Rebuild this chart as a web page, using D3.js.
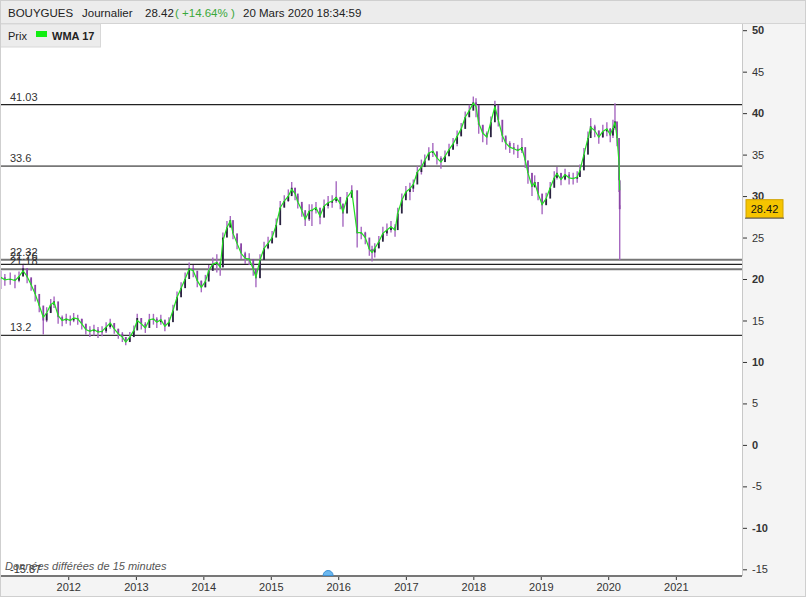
<!DOCTYPE html>
<html><head><meta charset="utf-8">
<script src="https://cdn.jsdelivr.net/npm/d3@7"></script>
<style>body{margin:0;background:#fff;} svg{display:block;font-family:Arial,"Liberation Sans",sans-serif;}</style>
</head><body><svg id="c" width="806" height="597"></svg>
<script>
// ---- data ----
const years = [2011.00,2011.06,2011.14,2011.21,2011.27,2011.33,2011.39,2011.45,2011.51,2011.57,2011.63,2011.68,2011.74,2011.79,2011.85,2011.91,2011.97,
2012.03,2012.08,2012.14,2012.20,2012.26,2012.32,2012.38,2012.44,2012.50,2012.56,2012.62,2012.68,2012.74,2012.80,2012.85,2012.91,2012.97,
2013.02,2013.08,2013.14,2013.20,2013.26,2013.31,2013.37,2013.43,2013.49,2013.55,2013.61,2013.67,2013.73,2013.79,2013.85,2013.91,2013.97,
2014.03,2014.08,2014.14,2014.20,2014.25,2014.29,2014.35,2014.40,2014.44,2014.50,2014.56,2014.62,2014.68,2014.74,2014.78,2014.84,2014.90,2014.96,
2015.02,2015.08,2015.14,2015.20,2015.26,2015.31,2015.36,2015.40,2015.46,2015.51,2015.57,2015.61,2015.67,2015.73,2015.79,2015.85,2015.91,2015.97,
2016.03,2016.07,2016.13,2016.20,2016.28,2016.34,2016.40,2016.46,2016.50,2016.54,2016.60,2016.66,2016.72,2016.78,2016.84,2016.88,2016.94,
2017.00,2017.06,2017.11,2017.17,2017.23,2017.28,2017.34,2017.40,2017.46,2017.52,2017.58,2017.64,2017.70,2017.76,2017.82,2017.88,2017.94,
2018.00,2018.04,2018.08,2018.14,2018.20,2018.26,2018.32,2018.37,2018.43,2018.48,2018.54,2018.60,2018.66,2018.72,2018.77,2018.81,2018.87,2018.91,2018.96,
2019.02,2019.08,2019.14,2019.20,2019.24,2019.30,2019.36,2019.42,2019.48,2019.54,2019.58,2019.64,2019.70,2019.74,2019.80,2019.86,2019.92,2019.98,
2020.03,2020.07,2020.10,2020.13,2020.16,2020.17];
const closes = [20.2,19.9,20.0,19.8,20.3,21.3,20.2,19.3,18.2,16.8,15.0,15.9,16.9,17.3,15.4,15.0,15.2,
15.0,15.3,15.2,14.6,13.9,13.7,13.9,13.6,13.7,14.2,14.7,14.0,13.4,13.0,12.4,13.0,13.8,
15.3,14.6,14.1,15.1,15.2,14.8,15.1,14.3,14.8,16.2,17.8,18.9,20.0,21.3,21.0,19.8,19.0,
19.7,21.0,21.8,22.0,21.4,25.0,26.2,27.1,25.5,24.3,23.1,22.5,22.4,21.2,20.1,22.3,23.7,24.3,
25.0,26.5,28.6,29.4,30.0,31.0,30.3,29.3,28.3,27.2,28.2,28.3,28.6,27.4,28.8,29.2,29.4,29.9,
29.1,27.9,29.8,30.7,25.5,25.6,25.0,23.6,23.2,23.7,24.5,25.5,25.9,26.3,25.9,27.9,29.5,
30.5,30.9,31.4,32.9,33.5,34.3,35.2,35.4,34.6,34.1,34.8,35.6,36.3,37.2,38.1,39.5,40.3,
41.3,41.0,38.6,37.6,37.1,38.9,41.0,39.2,37.3,36.4,35.9,35.7,35.5,35.9,34.3,32.8,31.1,31.7,30.3,
28.9,29.7,31.0,32.2,32.8,32.0,32.6,32.2,32.1,32.3,33.1,35.0,37.0,38.4,37.9,37.1,37.8,38.1,
37.3,38.2,39.0,37.0,31.9,28.42];
const highs = [21.0,20.6,20.8,20.5,20.9,21.7,20.9,20.0,18.9,17.6,15.9,16.6,17.6,17.9,16.2,15.6,15.8,
15.6,15.9,15.7,15.2,14.6,14.3,14.5,14.2,14.3,14.8,15.2,14.6,14.0,13.6,13.0,13.6,14.4,
15.8,15.2,14.8,15.8,15.8,15.4,15.7,14.9,15.4,16.9,18.5,19.6,20.8,22.0,21.7,20.5,19.8,
20.5,21.7,22.6,23.0,22.1,25.6,27.0,27.6,26.3,25.1,23.9,23.3,23.1,22.0,20.9,23.0,24.5,25.1,
25.8,27.3,29.4,30.1,30.8,31.7,31.0,30.0,29.0,28.0,29.0,29.0,29.3,28.2,29.6,30.0,30.1,31.8,
29.8,28.8,30.5,31.3,26.4,26.3,25.7,24.4,24.0,24.3,25.2,26.3,26.7,27.0,26.6,28.6,30.3,
31.2,31.6,32.0,33.6,34.4,35.0,35.9,36.4,35.3,34.8,35.5,36.3,37.0,37.9,38.8,40.2,41.0,
42.0,41.8,39.5,38.5,37.8,39.6,41.5,40.0,38.0,37.1,36.6,36.4,36.2,37.0,35.0,33.6,31.9,32.5,31.0,
29.6,30.4,31.7,33.0,33.5,32.7,33.3,32.9,32.8,33.0,33.8,35.8,37.8,39.4,38.6,37.9,38.6,38.9,
38.2,39.2,41.2,38.6,34.3,28.9];
const lows = [18.8,19.2,19.3,18.9,19.6,20.4,19.5,18.6,17.3,16.0,13.3,14.8,16.0,16.5,14.6,14.3,14.6,
14.4,14.8,14.5,13.9,13.3,13.0,13.2,12.9,13.1,13.5,14.0,13.4,12.8,12.4,12.0,12.5,13.2,
14.5,13.9,13.5,14.5,14.5,14.1,14.5,13.7,14.2,15.6,17.1,18.2,19.2,20.5,20.2,19.0,18.4,
19.0,20.3,21.0,20.8,20.4,21.5,25.5,26.3,24.8,23.6,22.4,21.8,21.7,20.4,19.0,21.5,23.0,23.6,
24.3,25.8,27.8,28.7,29.3,30.2,29.5,28.5,27.5,26.4,27.0,26.4,27.9,26.6,28.1,28.5,28.6,29.2,
28.4,26.3,29.0,30.0,23.8,24.8,24.2,22.8,22.1,22.6,23.7,24.8,25.2,25.6,25.1,27.1,28.8,
29.8,29.5,30.5,32.1,32.6,33.6,34.5,34.7,33.8,33.3,34.1,34.9,35.6,36.0,37.4,38.8,39.6,
40.6,39.5,37.5,36.5,36.2,38.0,40.0,38.4,36.5,35.6,35.2,35.0,34.6,35.2,33.4,31.5,30.0,31.0,29.5,
27.8,29.0,30.2,31.4,32.0,31.3,31.9,31.4,31.4,31.6,32.4,34.3,36.2,37.6,37.1,36.3,37.0,37.2,
36.5,37.0,38.0,36.0,30.5,22.3];
const wma = [20.2,19.9,20.0,19.8,20.3,21.0,20.3,19.3,18.2,16.8,15.4,15.9,16.9,17.2,15.6,15.0,15.2,
15.0,15.3,15.2,14.6,13.9,13.7,13.9,13.6,13.7,14.2,14.7,14.0,13.4,13.0,12.4,13.0,13.8,
15.0,14.6,14.1,15.1,15.2,14.8,15.1,14.3,14.8,16.2,17.8,18.9,20.0,21.2,21.0,19.8,19.0,
19.7,21.0,21.8,22.0,21.4,24.6,26.2,27.0,25.5,24.3,23.1,22.5,22.4,21.2,20.2,22.3,23.7,24.3,
25.0,26.5,28.6,29.4,30.0,30.8,30.3,29.3,28.3,27.2,28.2,28.3,28.6,27.6,28.8,29.2,29.4,29.8,
29.1,28.1,29.8,30.6,25.6,25.6,25.0,23.6,23.2,23.7,24.5,25.5,25.9,26.3,25.9,27.9,29.5,
30.5,30.9,31.4,32.9,33.5,34.3,35.2,35.4,34.6,34.1,34.8,35.6,36.3,37.2,38.1,39.5,40.3,
41.2,40.8,38.8,37.6,37.1,38.9,40.8,39.2,37.3,36.4,35.9,35.7,35.5,35.8,34.3,32.8,31.2,31.6,30.3,
29.0,29.7,31.0,32.2,32.7,32.0,32.6,32.2,32.1,32.3,33.1,35.0,37.0,38.3,37.9,37.1,37.8,38.1,
37.4,38.2,38.9,37.1,34.0,30.7];
const levelValues = [41.03, 33.6, 22.32, 21.76, 21.18, 13.2, -15.87];
const levelLabels = ["41.03", "33.6", "22.32", "21.76", "21.18", "13.2", "-15.87"];
const levelColors = ["#222", "#777", "#777", "#222", "#777", "#333", "#777"];
const yTicks = [50,45,40,35,30,25,20,15,10,5,0,-5,-10,-15];
const xTickYears = [2012,2013,2014,2015,2016,2017,2018,2019,2020,2021];
const lastPrice = "28.42";

// ---- helpers ----
function toDate(v){const yr=Math.floor(v+1e-9);const f=v-yr;const s=new Date(yr,0,1),e=new Date(yr+1,0,1);return new Date(+s+f*(e-s));}
const svg = d3.select("#c");
const W=806,H=597, plotR=742, plotT=24, plotB=576;
const x = d3.scaleTime().domain([new Date(2011,0,1), new Date(2022,0,1)]).range([0.8, 0.8+67.5*11]);
const y = d3.scaleLinear().domain([-15,50]).range([569.3,30.2]);

svg.append("rect").attr("width",W).attr("height",H).attr("fill","#fff");
svg.append("defs").append("clipPath").attr("id","pc").append("rect").attr("x",0).attr("y",plotT).attr("width",plotR).attr("height",plotB-plotT);
const plot = svg.append("g").attr("clip-path","url(#pc)");

// levels
levelValues.forEach((v,i)=>{
  plot.append("line").attr("x1",0).attr("x2",plotR).attr("y1",y(v)).attr("y2",y(v))
    .attr("stroke",levelColors[i]).attr("stroke-width", levelColors[i]==="#777"?1.8:1.2);
  plot.append("text").attr("x",10).attr("y",y(v)-4).attr("font-size",11).attr("fill","#333").text(levelLabels[i]);
});

// bars
const data = years.map((t,i)=>({d:toDate(t),c:closes[i],h:highs[i],l:lows[i],o:i>0?closes[i-1]:closes[i]}));
plot.selectAll("line.wick").data(data).join("line").attr("class","wick")
  .attr("x1",d=>x(d.d)).attr("x2",d=>x(d.d)).attr("y1",d=>y(d.h)).attr("y2",d=>y(d.l))
  .attr("stroke","#a668c0").attr("stroke-width",1.4);
plot.selectAll("rect.body").data(data).join("rect").attr("class","body")
  .attr("x",d=>x(d.d)-0.9).attr("width",1.8)
  .attr("y",d=>y(Math.max(d.o,d.c))).attr("height",d=>Math.max(1,Math.abs(y(d.o)-y(d.c))))
  .attr("fill",d=>d.c>=d.o?"#2a2340":"#8a44a6");

// WMA
plot.append("path").datum(years.map((t,i)=>[toDate(t),wma[i]]))
  .attr("d",d3.line().x(d=>x(d[0])).y(d=>y(d[1])))
  .attr("fill","none").attr("stroke","#22e022").attr("stroke-width",1.2);

svg.append("text").attr("x",5).attr("y",570).attr("font-size",11).attr("font-style","italic").attr("fill","#555").text("Données différées de 15 minutes");

// right axis panel
svg.append("rect").attr("x",plotR).attr("y",plotT).attr("width",W-plotR).attr("height",H-plotT).attr("fill","#f4f4f4");
svg.append("rect").attr("x",0).attr("y",plotB+1).attr("width",plotR).attr("height",H-plotB-1).attr("fill","#f4f4f4");
svg.append("line").attr("x1",plotR+0.5).attr("x2",plotR+0.5).attr("y1",plotT).attr("y2",plotB).attr("stroke","#c8c8c8");
const ya = svg.append("g").attr("transform",`translate(${plotR+1},0)`)
  .call(d3.axisRight(y).tickValues(yTicks).tickSize(4).tickPadding(5).tickFormat(d=>String(d)));
ya.select(".domain").remove();
ya.selectAll("line").attr("stroke","#333");
ya.selectAll("text").attr("font-size",11).attr("fill","#333").attr("font-family","Arial, 'Liberation Sans', sans-serif")
  .attr("font-weight",d=>d%10===0?"bold":"normal");

// bottom axis
const xa = svg.append("g").attr("transform",`translate(0,${plotB+1})`)
  .call(d3.axisBottom(x).tickValues(xTickYears.map(v=>new Date(v,0,1))).tickSize(3).tickPadding(3).tickFormat(d3.timeFormat("%Y")));
xa.select(".domain").remove();
xa.selectAll("line").attr("stroke","#333");
xa.selectAll("text").attr("font-size",11).attr("fill","#333").attr("font-family","Arial, 'Liberation Sans', sans-serif");
svg.append("line").attr("x1",0).attr("x2",plotR).attr("y1",plotB).attr("y2",plotB).attr("stroke","#777").attr("stroke-width",2);

// event marker
const mx = x(toDate(2015.85));
svg.append("path").attr("d",d3.arc()({innerRadius:0,outerRadius:5,startAngle:-Math.PI/2,endAngle:Math.PI/2}))
  .attr("transform",`translate(${mx},${plotB-0.5})`).attr("fill","#6bb8f0").attr("stroke","#3d92d6").attr("stroke-width",1);

// price tag
const py = y(+lastPrice);
svg.append("rect").attr("x",746).attr("y",py-9.5).attr("width",37).attr("height",18).attr("fill","#f6c500").attr("stroke","#d0a200");
svg.append("line").attr("x1",745).attr("x2",784).attr("y1",py+9).attr("y2",py+9).attr("stroke","#555").attr("stroke-width",1);
svg.append("text").attr("x",764.5).attr("y",py+4).attr("text-anchor","middle").attr("font-size",11).attr("fill","#111").text(lastPrice);

// header
svg.append("rect").attr("x",0).attr("y",0).attr("width",W).attr("height",plotT).attr("fill","#ececec");
svg.append("line").attr("x1",0).attr("x2",W).attr("y1",plotT-0.5).attr("y2",plotT-0.5).attr("stroke","#d4d4d4");
const hdr = svg.append("text").attr("y",17).attr("font-size",11.5).attr("fill","#222");
hdr.append("tspan").attr("x",8).text("BOUYGUES");
hdr.append("tspan").attr("x",82).text("Journalier");
hdr.append("tspan").attr("x",145).text("28.42");
hdr.append("tspan").attr("x",175).attr("fill","#3aa83a").text("( +14.64% )");
hdr.append("tspan").attr("x",243).text("20 Mars 2020 18:34:59");

// legend
svg.append("rect").attr("x",0.5).attr("y",plotT).attr("width",100).attr("height",23).attr("fill","#ececec").attr("stroke","#d8d8d8");
svg.append("text").attr("x",8).attr("y",40).attr("font-size",11).attr("fill","#222").text("Prix");
svg.append("rect").attr("x",36).attr("y",31).attr("width",11).attr("height",6).attr("fill","#11ee11");
svg.append("text").attr("x",52).attr("y",40).attr("font-size",11).attr("font-weight","bold").attr("fill","#222").text("WMA 17");

// frame
svg.append("rect").attr("x",0.5).attr("y",0.5).attr("width",W-1).attr("height",H-1).attr("fill","none").attr("stroke","#cfcfcf");
</script></body></html>
